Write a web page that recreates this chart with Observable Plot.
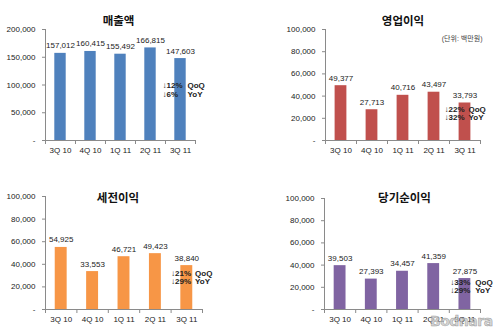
<!DOCTYPE html>
<html>
<head>
<meta charset="utf-8">
<script src="https://cdn.jsdelivr.net/npm/d3@7"></script>
<script src="https://cdn.jsdelivr.net/npm/@observablehq/plot@0.6"></script>
<style>
  html, body { margin: 0; padding: 0; background: #fff; }
  #chart { position: relative; width: 500px; height: 331px; overflow: hidden;
    font-family: "Liberation Sans", Arial, "Noto Sans CJK KR", sans-serif; }
  .panel { position: absolute; }
  .panel svg { overflow: visible; }
  #wm { position: absolute; left: 430px; top: 313px; font: bold 14px "DejaVu Sans", sans-serif;
    color: rgba(200,200,200,0.75); -webkit-text-stroke: 0.5px rgba(120,120,120,0.7); letter-spacing: -0.5px; }
</style>
</head>
<body>
<div id="chart"><div id="wm">Bodnara</div></div>
<script>
// ---- data ----
const quarters = ["3Q 10", "4Q 10", "1Q 11", "2Q 11", "3Q 11"];
const sales     = [157012, 160415, 155492, 166815, 147603];
const opIncome  = [49377, 27713, 40716, 43497, 33793];
const preTax    = [54925, 33553, 46721, 49423, 38840];
const netIncome = [39503, 27393, 34457, 41359, 27875];
const titles = ["매출액", "영업이익", "세전이익", "당기순이익"];
const salesChange  = ["↓12%", "↓6%"];
const opChange     = ["↓22%", "↓32%"];
const preTaxChange = ["↓21%", "↓29%"];
const netChange    = ["↓33%", "↓29%"];
const changeLabels = ["QoQ", "YoY"];
const ticksSales  = [0, 50000, 100000, 150000, 200000];
const ticksProfit = [0, 20000, 40000, 60000, 80000, 100000];
const unitLabel = "(단위: 백만원)";

const grey = "#8a8a8a";
const ink = "#222";
const fmt = d => d === 0 ? "-" : d3.format(",")(d);

const panels = [
  {values: sales, title: titles[0], change: salesChange, ticks: ticksSales, color: "#4F81BD",
   left: 0, top: 0, w: 250, h: 165, mL: 45, mR: 55, mT: 29, mB: 25,
   tdx: -2, tdy: -8, ay: 91000, adx: -3, qdx: 22},
  {values: opIncome, title: titles[1], change: opChange, ticks: ticksProfit, color: "#C0504D",
   left: 250, top: 0, w: 250, h: 165, mL: 75, mR: 20, mT: 29, mB: 25,
   tdx: 0, tdy: -8, ay: 24300, adx: -5, qdx: 19, unit: true},
  {values: preTax, title: titles[2], change: preTaxChange, ticks: ticksProfit, color: "#F79646",
   left: 0, top: 165, w: 250, h: 166, mL: 45, mR: 48, mT: 31, mB: 22,
   tdx: -6, tdy: 2, ay: 28300, adx: 0, qdx: 24},
  {values: netIncome, title: titles[3], change: netChange, ticks: ticksProfit, color: "#8064A2",
   left: 250, top: 165, w: 250, h: 166, mL: 74, mR: 20, mT: 33, mB: 22,
   tdx: 2, tdy: 0, ay: 20700, adx: 1, qdx: 26}
];

const chart = document.getElementById("chart");
for (const p of panels) {
  const idx = quarters.map((q, i) => i);
  const ymax = p.ticks[p.ticks.length - 1];
  const marks = [
    Plot.rectY(idx, {x1: i => i + 0.31, x2: i => i + 0.69, y1: 0, y2: i => p.values[i], fill: p.color}),
    Plot.ruleY([0], {stroke: grey}),
    Plot.ruleX([0], {stroke: grey}),
    Plot.axisY({ticks: p.ticks, tickFormat: fmt, tickSize: 3, tickPadding: 7, stroke: grey, fill: ink, fontSize: 8}),
    Plot.axisX({ticks: [0, 1, 2, 3, 4, 5], tickFormat: () => "", tickSize: 4, stroke: grey}),
    Plot.axisX({ticks: idx.map(i => i + 0.5), tickFormat: t => quarters[Math.floor(t)], tickSize: 0, tickPadding: 7, fill: ink, fontSize: 8}),
    Plot.text(idx, {x: i => i + 0.5, y: i => p.values[i], text: i => fmt(p.values[i]), dy: -5, lineAnchor: "bottom", fill: ink, fontSize: 8}),
    Plot.text([p.title], {frameAnchor: "top", dx: p.tdx, dy: p.tdy, lineAnchor: "middle", fontSize: 11.5, fontWeight: "bold", fill: "#111"}),
    Plot.text([p.change.join("\n")], {x: 4, y: p.ay, dx: p.adx, textAnchor: "start", lineAnchor: "middle", lineHeight: 1.05, fontSize: 8, fontWeight: "bold", fill: ink}),
    Plot.text([changeLabels.join("\n")], {x: 4, y: p.ay, dx: p.qdx, textAnchor: "start", lineAnchor: "middle", lineHeight: 1.05, fontSize: 8, fontWeight: "bold", fill: ink})
  ];
  if (p.unit) {
    marks.push(Plot.text([unitLabel], {frameAnchor: "top-right", dx: 2, dy: 9, textAnchor: "end", lineAnchor: "middle", fontSize: 7, fill: "#444"}));
  }
  const svg = Plot.plot({
    width: p.w, height: p.h,
    marginLeft: p.mL, marginRight: p.mR, marginTop: p.mT, marginBottom: p.mB,
    x: {type: "linear", domain: [0, 5], axis: null},
    y: {domain: [0, ymax], axis: null},
    style: {fontFamily: "'Liberation Sans', Arial, 'Noto Sans CJK KR', sans-serif", background: "transparent", color: ink},
    marks
  });
  const div = document.createElement("div");
  div.className = "panel";
  div.style.left = p.left + "px";
  div.style.top = p.top + "px";
  div.appendChild(svg);
  chart.insertBefore(div, document.getElementById("wm"));
}
</script>
</body>
</html>
